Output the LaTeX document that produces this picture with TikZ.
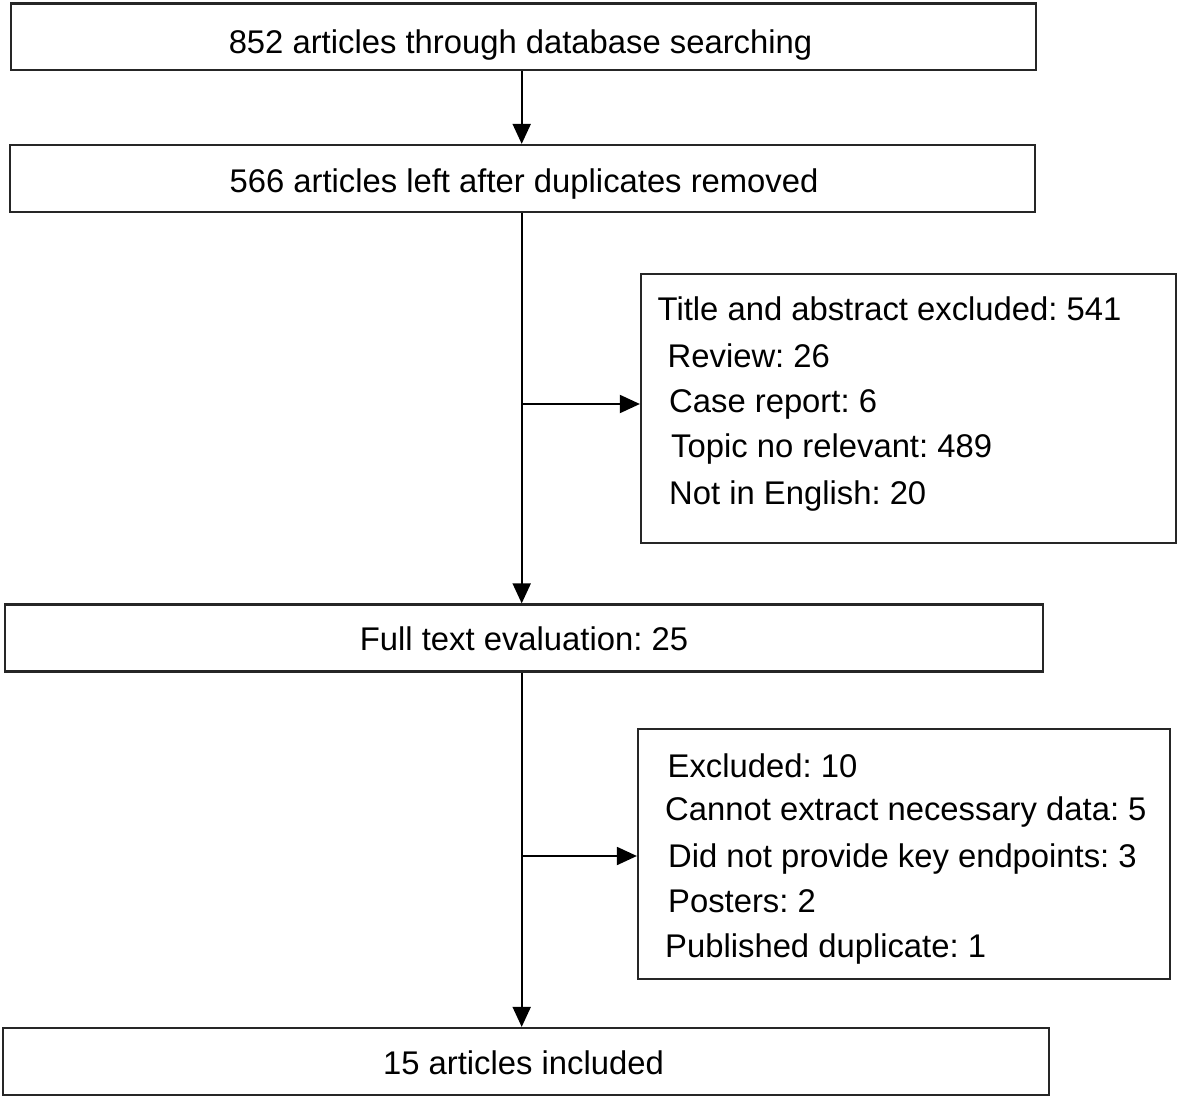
\documentclass[tikz,border=0pt]{standalone}
\usepackage{fontspec}
\setmainfont{Liberation Sans}
\usetikzlibrary{arrows.meta}
\frenchspacing
\begin{document}
\begin{tikzpicture}[x=1pt,y=-1pt,
  box/.style={draw=black!85, line width=2.2pt, rectangle, inner sep=0pt, fill=white},
  txt/.style={inner sep=0pt, font=\fontsize{32.8}{40}\selectfont\frenchspacing, text=black},
  conn/.style={draw=black, line width=1.9pt},
  arr/.style={conn, -{Triangle[length=20pt,width=18pt]}}]
\useasboundingbox[fill=white] (0,0) rectangle (1181,1099);
% main boxes
\node[box, minimum width=1025.3pt, minimum height=66.5pt] (b1) at (523.3,36.7) {};
\node[box, minimum width=1025pt, minimum height=67pt] (b2) at (522.5,178.5) {};
\node[box, minimum width=1038pt, minimum height=67pt] (b3) at (524,638) {};
\node[box, minimum width=1045.7pt, minimum height=67pt] (b4) at (526.2,1061.5) {};
% side boxes
\node[box, minimum width=535pt, minimum height=269pt] (s1) at (908.5,408.5) {};
\node[box, minimum width=532pt, minimum height=250pt] (s2) at (904,854) {};
% main texts
\node[txt, anchor=base] (t1) at (520.5,54) {852 articles through database searching};
\node[txt, anchor=base] (t2) at (524,193) {566 articles left after duplicates removed};
\node[txt, anchor=base] (t3) at (524,650) {Full text evaluation: 25};
\node[txt, anchor=base] (t4) at (523.5,1074) {15 articles included};
% side box 1 texts
\node[txt, anchor=base west] (a1) at (657.5,321) {Title and abstract excluded: 541};
\node[txt, anchor=base west] (a2) at (667.5,367) {Review: 26};
\node[txt, anchor=base west] (a3) at (669,412) {Case report: 6};
\node[txt, anchor=base west] (a4) at (671,457) {Topic no relevant: 489};
\node[txt, anchor=base west] (a5) at (669,504) {Not in English: 20};
% side box 2 texts
\node[txt, anchor=base west] (c1) at (667.5,777) {Excluded: 10};
\node[txt, anchor=base west] (c2) at (665,820) {Cannot extract necessary data: 5};
\node[txt, anchor=base west] (c3) at (668,867) {Did not provide key endpoints: 3};
\node[txt, anchor=base west] (c4) at (668,912) {Posters: 2};
\node[txt, anchor=base west] (c5) at (665,957) {Published duplicate: 1};
% connectors
\coordinate (vx) at (521.7,0);
\coordinate (j1) at (521.7,404);
\coordinate (j2) at (521,856);
\draw[arr] (b1.south -| vx) -- (b2.north -| vx);
\draw[arr] (b2.south -| vx) -- (b3.north -| vx);
\draw[arr] (b3.south -| vx) -- (b4.north -| vx);
\draw[arr] (j1) -- (j1 -| s1.west);
\draw[arr] (j2) -- (j2 -| s2.west);
\end{tikzpicture}
\end{document}
